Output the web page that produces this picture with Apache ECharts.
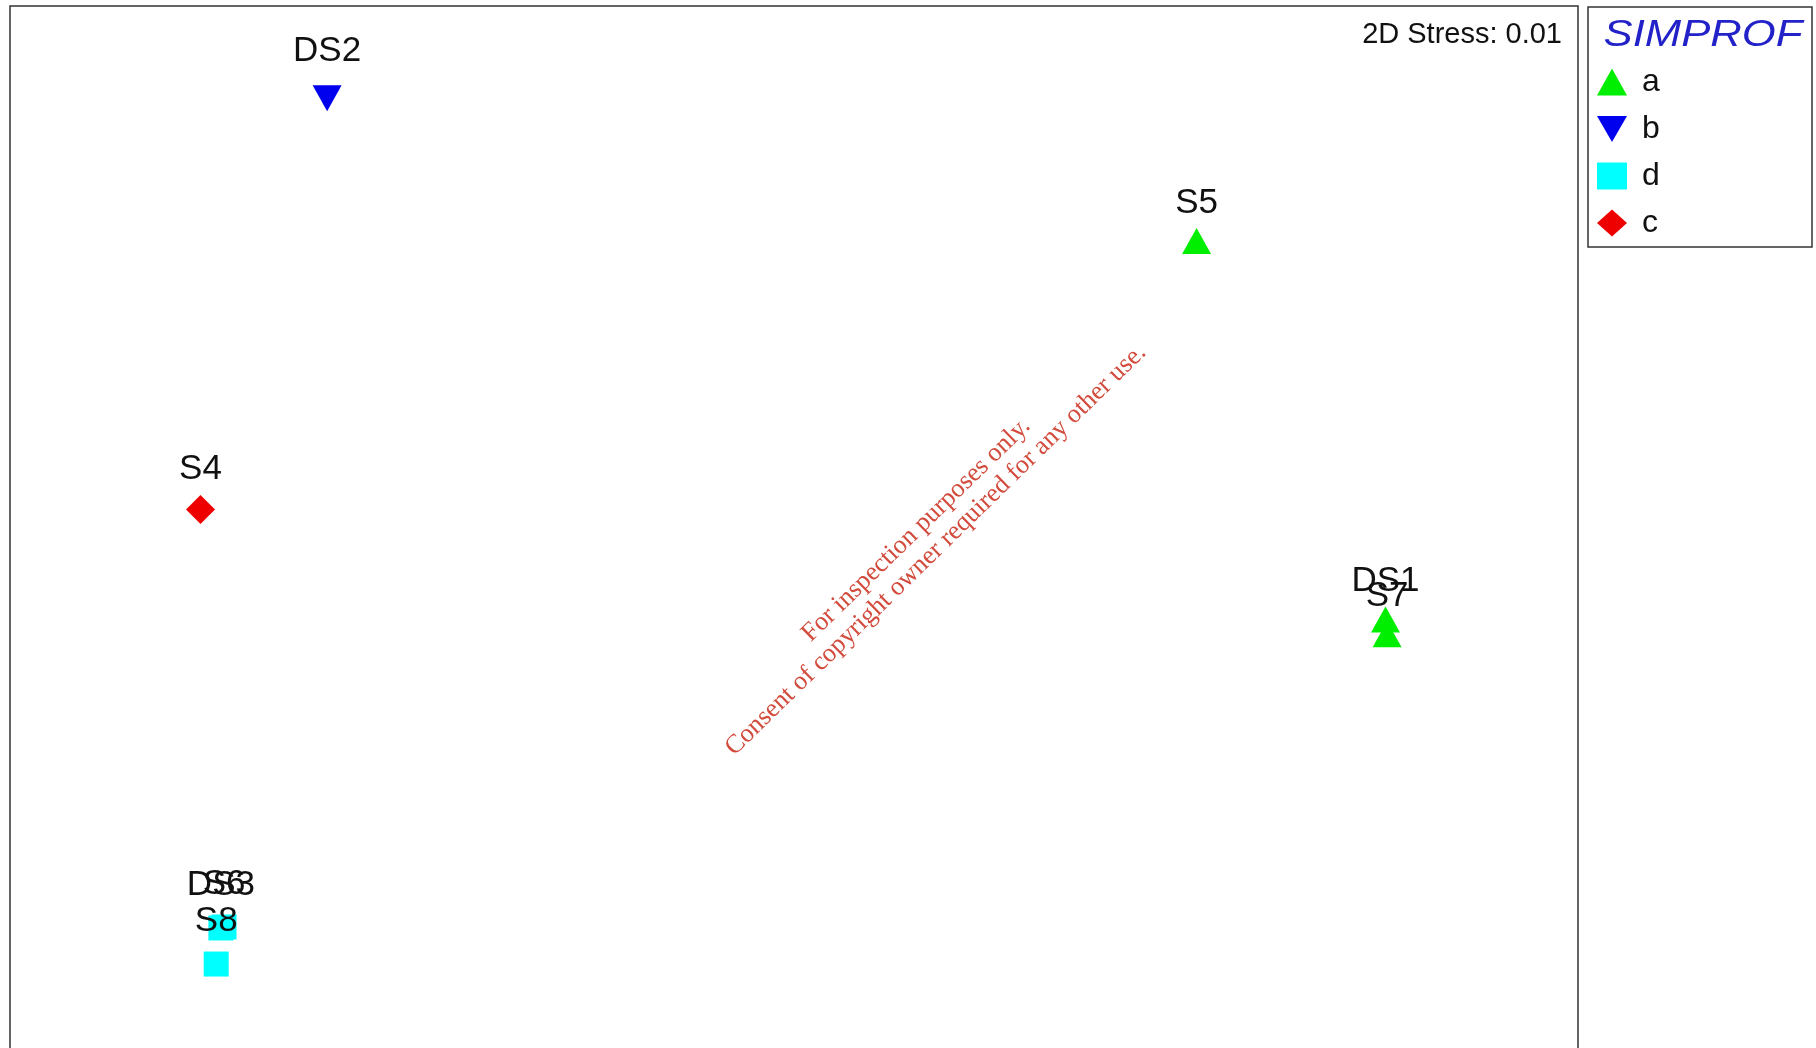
<!DOCTYPE html>
<html>
<head>
<meta charset="utf-8">
<script src="https://cdn.jsdelivr.net/npm/echarts@6/dist/echarts.min.js"></script>
<style>
html,body{margin:0;padding:0;background:#fff;}
#chart{width:1816px;height:1048px;}
</style>
</head>
<body>
<div id="chart"></div>
<script>
// nMDS coordinates (arbitrary MDS units), grouped by SIMPROF group
const groupA_names = ['S5', 'DS1', 'S7'];
const groupA_x = [1.027, 1.509, 1.513];
const groupA_y = [0.7505, -0.215, -0.253];

const groupB_names = ['DS2'];
const groupB_x = [-1.191];
const groupB_y = [1.1145];

const groupD_names = ['DS3', 'S6', 'S8'];
const groupD_x = [-1.462, -1.454, -1.474];
const groupD_y = [-1.002, -0.9995, -1.094];

const groupC_names = ['S4'];
const groupC_x = [-1.514];
const groupC_y = [0.0656];

const legendOrder = ['a', 'b', 'd', 'c'];
const stressText = '2D Stress: 0.01';
const legendTitle = 'SIMPROF';
const watermark = 'For inspection purposes only.\nConsent of copyright owner required for any other use.';

function pts(names, xs, ys) {
  return names.map((n, i) => ({ name: n, value: [xs[i], ys[i]] }));
}

const labelFont = { color: '#111', fontSize: 35, lineHeight: 35, fontFamily: 'Liberation Sans, Arial, sans-serif' };

function series(name, data, symbol, size, color, dist) {
  return {
    name: name,
    type: 'scatter',
    data: data,
    symbol: symbol,
    symbolSize: size,
    symbolKeepAspect: false,
    itemStyle: { color: color, opacity: 1 },
    label: Object.assign({ show: true, position: 'top', distance: dist, formatter: '{b}' }, labelFont),
    emphasis: { disabled: true },
    z: 3
  };
}

const chart = echarts.init(document.getElementById('chart'), null, { renderer: 'canvas' });
chart.setOption({
  backgroundColor: '#fff',
  animation: false,
  grid: {
    left: 10, right: 238, top: 6, bottom: 0,
    show: false
  },
  xAxis: { type: 'value', min: -2, max: 2, show: false },
  yAxis: { type: 'value', min: -1.3082, max: 1.35, show: false },
  legend: {
    data: legendOrder,
    orient: 'vertical',
    left: 1597, top: 66,
    padding: 0,
    itemWidth: 30, itemHeight: 27,
    itemGap: 15,
    selectedMode: false,
    textStyle: { color: '#111', fontSize: 32, lineHeight: 32, fontFamily: 'Liberation Sans, Arial, sans-serif', padding: [0, 0, 0, 10] }
  },
  graphic: [
    { type: 'polyline', shape: { points: [[10, 1050], [10, 6], [1578, 6], [1578, 1050]] }, style: { stroke: '#333', lineWidth: 1.5, fill: null }, z: 0 },
    { type: 'rect', shape: { x: 1588, y: 7, width: 224, height: 240 }, style: { fill: '#fff', stroke: '#333', lineWidth: 1.5 }, z: 0 },
    { type: 'text', x: 1703, y: 36, scaleX: 1.18, z: 10,
      style: { text: legendTitle, x: 0, y: 0, align: 'center', verticalAlign: 'middle', fill: '#2222c8', fontSize: 37, fontStyle: 'italic', fontFamily: 'Liberation Sans, Arial, sans-serif' } },
    { type: 'text', x: 1562, y: 34.5, z: 10,
      style: { text: stressText, align: 'right', verticalAlign: 'middle', fill: '#111', fontSize: 29, fontFamily: 'Liberation Sans, Arial, sans-serif' } },
    { type: 'text', x: 926, y: 540, rotation: 44.3 * Math.PI / 180, z: 20,
      style: { text: watermark, align: 'center', verticalAlign: 'middle', fill: '#d24b3c', fontSize: 26.2, lineHeight: 28, fontFamily: 'Liberation Serif, Times New Roman, serif' } }
  ],
  series: [
    series('a', pts(groupA_names, groupA_x, groupA_y), 'triangle', [29, 26], '#00ee00', 7.5),
    series('b', pts(groupB_names, groupB_x, groupB_y), 'path://M0,0L30,0L15,26Z', [29, 26], '#0000ee', 16),
    series('d', pts(groupD_names, groupD_x, groupD_y), 'rect', [25, 25], '#00ffff', 12.5),
    series('c', pts(groupC_names, groupC_x, groupC_y), 'diamond', [29, 29], '#ee0000', 8.5)
  ]
});
</script>
</body>
</html>
